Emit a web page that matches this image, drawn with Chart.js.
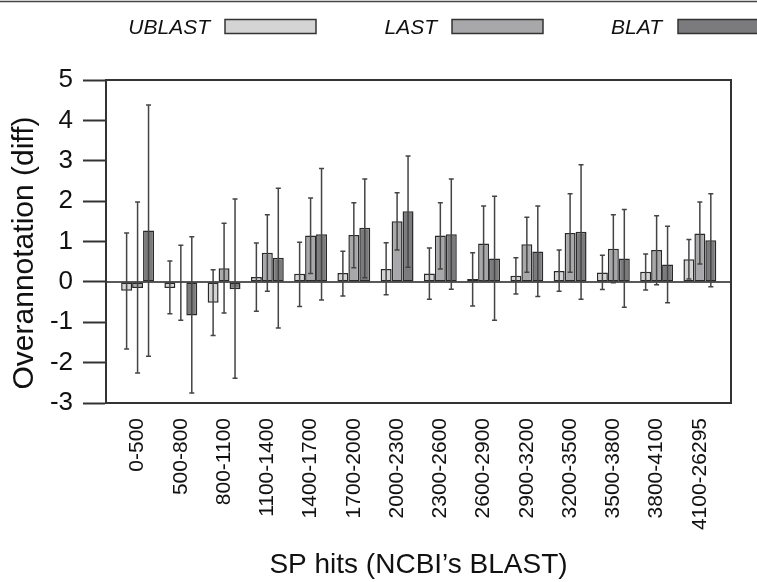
<!DOCTYPE html>
<html>
<head>
<meta charset="utf-8">
<script src="https://cdn.jsdelivr.net/npm/chart.js@4/dist/chart.umd.min.js"></script>
<style>
  html, body { margin: 0; padding: 0; background: #fff; }
  #wrap { width: 757px; height: 582px; position: relative; }
</style>
</head>
<body>
<div id="wrap"><canvas id="chart"></canvas></div>
<script>
// categories (SP hits bins)
const categories = ['0-500', '500-800', '800-1100', '1100-1400', '1400-1700', '1700-2000', '2000-2300',
    '2300-2600', '2600-2900', '2900-3200', '3200-3500', '3500-3800', '3800-4100', '4100-26295']

// mean values and error bar ends
const ublast   = [-0.22, -0.15, -0.52, 0.12, 0.20, 0.22, 0.32, 0.21, 0.07, 0.15, 0.27, 0.23, 0.25, 0.56]
const ublastHi = [1.21, 0.52, 0.30, 0.96, 0.98, 0.76, 0.97, 0.84, 0.72, 0.60, 0.79, 0.66, 0.69, 1.05]
const ublastLo = [-1.66, -0.79, -1.33, -0.73, -0.61, -0.35, -0.32, -0.43, -0.60, -0.30, -0.23, -0.19, -0.20, 0.07]

const last   = [-0.15, -0.02, 0.34, 0.72, 1.15, 1.16, 1.50, 1.15, 0.95, 0.93, 1.21, 0.82, 0.79, 1.20]
const lastHi = [1.98, 0.91, 1.45, 1.66, 2.08, 1.96, 2.21, 1.96, 1.88, 1.60, 2.18, 1.66, 1.64, 1.98]
const lastLo = [-2.26, -0.95, -0.77, -0.23, 0.21, 0.35, 0.79, 0.32, 0.02, 0.24, 0.24, -0.02, -0.07, 0.44]

const blat   = [1.27, -0.83, -0.18, 0.60, 1.18, 1.34, 1.75, 1.18, 0.58, 0.75, 1.24, 0.58, 0.43, 1.03]
const blatHi = [4.38, 1.12, 2.05, 2.32, 2.81, 2.55, 3.12, 2.55, 2.12, 1.88, 2.90, 1.79, 1.38, 2.18]
const blatLo = [-1.84, -2.75, -2.39, -1.14, -0.45, 0.10, 0.36, -0.18, -0.95, -0.36, -0.43, -0.63, -0.52, -0.12]

const yTicks = [-3, -2, -1, 0, 1, 2, 3, 4, 5]

const FONT = "'Liberation Sans', Arial, Helvetica, sans-serif"

function points(values){
    return values.map((v, i) => ({x: i, y: v}))
}

const series = [
    {label: 'UBLAST', values: ublast, hi: ublastHi, lo: ublastLo, color: '#d4d4d5'},
    {label: 'LAST',   values: last,   hi: lastHi,   lo: lastLo,   color: '#a8a8aa'},
    {label: 'BLAT',   values: blat,   hi: blatHi,   lo: blatLo,   color: '#7b7b7d'}
]

// error bars, zero line, frame, legend and y title
const extras = {
    id: 'extras',
    afterDatasetsDraw(chart){
        const ctx = chart.ctx
        const y = chart.scales.y
        const area = chart.chartArea
        ctx.save()
        // zero line
        ctx.strokeStyle = '#222'
        ctx.lineWidth = 1.5
        ctx.beginPath()
        ctx.moveTo(area.left, y.getPixelForValue(0))
        ctx.lineTo(area.right, y.getPixelForValue(0))
        ctx.stroke()
        // error bars
        ctx.strokeStyle = '#444'
        ctx.lineWidth = 1.5
        series.forEach((s, di) => {
            const meta = chart.getDatasetMeta(di)
            meta.data.forEach((bar, i) => {
                const top = y.getPixelForValue(s.hi[i])
                const bot = y.getPixelForValue(s.lo[i])
                ctx.beginPath()
                ctx.moveTo(bar.x, top)
                ctx.lineTo(bar.x, bot)
                ctx.moveTo(bar.x - 2.5, top)
                ctx.lineTo(bar.x + 2.5, top)
                ctx.moveTo(bar.x - 2.5, bot)
                ctx.lineTo(bar.x + 2.5, bot)
                ctx.stroke()
            })
        })
        ctx.restore()
    },
    afterDraw(chart){
        const ctx = chart.ctx
        const area = chart.chartArea
        ctx.save()
        // plot frame
        ctx.strokeStyle = '#333'
        ctx.lineWidth = 2
        ctx.strokeRect(area.left, area.top, area.right - area.left, area.bottom - area.top)
        // top rule
        ctx.lineWidth = 1.5
        ctx.strokeStyle = '#444'
        ctx.beginPath()
        ctx.moveTo(0, 1.5)
        ctx.lineTo(757, 1.5)
        ctx.stroke()
        // legend: italic name, then swatch
        const textRight = [210, 437, 662]
        const boxLeft = [225, 452, 678]
        ctx.font = 'italic 21px ' + FONT
        ctx.textAlign = 'right'
        ctx.textBaseline = 'middle'
        series.forEach((s, i) => {
            ctx.fillStyle = '#111'
            ctx.fillText(s.label, textRight[i], 28)
            ctx.fillStyle = s.color
            ctx.fillRect(boxLeft[i], 19.5, 91, 14)
            ctx.strokeStyle = '#333'
            ctx.lineWidth = 1.5
            ctx.strokeRect(boxLeft[i], 19.5, 91, 14)
        })
        // y axis title
        ctx.translate(25, 253)
        ctx.rotate(-Math.PI / 2)
        ctx.font = '30px ' + FONT
        ctx.textAlign = 'center'
        ctx.fillStyle = '#111'
        ctx.fillText('Overannotation (diff)', 0, 0)
        ctx.restore()
    }
}

new Chart(document.getElementById('chart'), {
    type: 'bar',
    data: {
        datasets: series.map(s => ({
            label: s.label,
            data: points(s.values),
            backgroundColor: s.color,
            borderColor: '#2a2a2a',
            borderWidth: 1.5,
            borderSkipped: false,
            categoryPercentage: 0.76,
            barPercentage: 1.0
        }))
    },
    options: {
        responsive: true,
        maintainAspectRatio: false,
        animation: false,
        layout: { padding: { top: 80, right: 26, left: 0, bottom: 0 } },
        plugins: {
            legend: { display: false },
            tooltip: { enabled: false }
        },
        scales: {
            x: {
                type: 'linear',
                min: -0.73,
                max: 13.72,
                offset: false,
                afterBuildTicks: scale => {
                    scale.ticks = categories.map((c, i) => ({value: i}))
                },
                afterFit: scale => { scale.height = 179 },
                grid: { display: false, drawTicks: false },
                border: { display: false },
                ticks: {
                    autoSkip: false,
                    minRotation: 90,
                    maxRotation: 90,
                    padding: 15,
                    color: '#111',
                    font: { family: FONT, size: 21 },
                    callback: v => categories[v]
                },
                title: {
                    display: true,
                    text: 'SP hits (NCBI’s BLAST)',
                    color: '#111',
                    font: { family: FONT, size: 28 },
                    padding: { top: 0, bottom: 0 }
                }
            },
            y: {
                min: yTicks[0],
                max: yTicks[yTicks.length - 1],
                afterBuildTicks: scale => {
                    scale.ticks = yTicks.map(v => ({value: v}))
                },
                afterFit: scale => { scale.width = 106 },
                grid: {
                    drawOnChartArea: false,
                    drawTicks: true,
                    tickLength: 23,
                    tickColor: '#333',
                    tickWidth: 2
                },
                border: { display: true, color: '#333', width: 2 },
                ticks: {
                    padding: 10,
                    color: '#111',
                    font: { family: FONT, size: 26 }
                }
            }
        }
    },
    plugins: [extras]
})
</script>
</body>
</html>
